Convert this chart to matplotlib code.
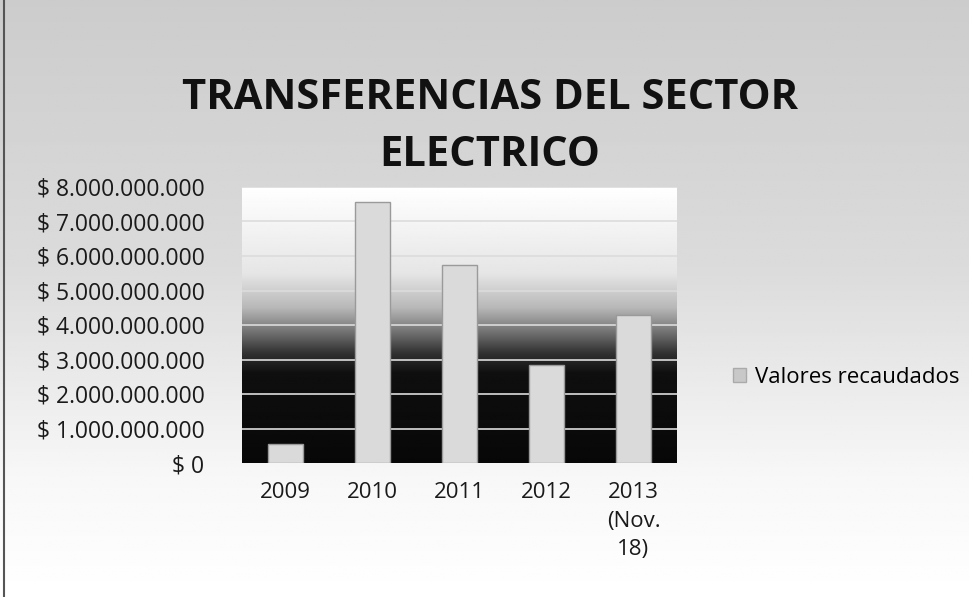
import numpy as np
import matplotlib
matplotlib.use("Agg")
import matplotlib.pyplot as plt
from matplotlib.patches import Patch

categories = ["2009", "2010", "2011", "2012", "2013\n(Nov.\n18)"]
values = [550_000_000, 7_570_000_000, 5_740_000_000, 2_840_000_000, 4_290_000_000]
yticks = [0, 1e9, 2e9, 3e9, 4e9, 5e9, 6e9, 7e9, 8e9]
series_name = "Valores recaudados"
title = "TRANSFERENCIAS DEL SECTOR\nELECTRICO"

FAM = ["Open Sans", "DejaVu Sans"]

def fmt(v):
    if v == 0:
        return "$ 0"
    return "$ " + f"{int(v):,}".replace(",", ".")

fig = plt.figure(figsize=(9.7, 5.97), dpi=100)

# figure background gradient (gray top -> white bottom)
bg = fig.add_axes([0, 0, 1, 1], zorder=-10)
rows = np.linspace(0, 1, 200)
shade = np.interp(rows, [0, 0.2, 0.55, 1.0], [1.0, 0.97, 0.86, 0.80])
bg.imshow(shade[:, None] * np.ones((1, 10)), cmap="gray", vmin=0, vmax=1,
          aspect="auto", extent=[0, 1, 0, 1], origin="lower")
bg.set_xlim(0, 1); bg.set_ylim(0, 1)
bg.axis("off")
bg.plot([0.004, 0.004], [0.0, 1.0], color="#555555", lw=1.5)

ax = fig.add_axes([242/970, 1 - 463/597, (677-242)/970, (463-187)/597])
x = np.arange(len(categories))
ax.set_xlim(-0.5, len(categories) - 0.5)
ax.set_ylim(0, 8e9)

# plot-area gradient: white at top, black at bottom
yy = np.linspace(0, 8e9, 300)
g = np.interp(yy, [0, 2.6e9, 3.2e9, 3.8e9, 4.5e9, 5.5e9, 8e9],
              [0.03, 0.06, 0.2, 0.45, 0.72, 0.9, 1.0])
ax.imshow(g[:, None] * np.ones((1, 10)), cmap="gray", vmin=0, vmax=1,
          aspect="auto", extent=[-0.5, len(categories) - 0.5, 0, 8e9],
          origin="lower", zorder=0)

for t in yticks[1:]:
    ax.axhline(t, color="#dcdcdc", lw=1.2, zorder=1)

ax.bar(x, values, width=0.4, color="#dadada", edgecolor="#9a9a9a",
       linewidth=1.0, zorder=2, label=series_name)

ax.set_yticks(yticks)
ax.set_yticklabels([fmt(v) for v in yticks], fontsize=16.5, color="#1a1a1a",
                   family=FAM)
ax.set_xticks(x)
ax.set_xticklabels(categories, fontsize=16, color="#1a1a1a",
                   family=FAM, va="top", linespacing=1.45)
ax.tick_params(axis="y", length=0, pad=27)
ax.tick_params(axis="x", length=0, pad=14)
for s in ax.spines.values():
    s.set_visible(False)

fig.text(0.505, 0.787, title, ha="center", va="center", fontsize=30,
         fontweight="bold", color="#111111", linespacing=1.5,
         family=FAM)

handles = [Patch(facecolor="#c8c8c8", edgecolor="#aaaaaa", label=series_name)]
fig.legend(handles=handles, loc="center left", bbox_to_anchor=(0.735, 0.368),
           frameon=False, handlelength=0.6, handleheight=0.6,
           handletextpad=0.4, prop={"family": FAM, "size": 16})

fig.savefig("out.png", dpi=100)
